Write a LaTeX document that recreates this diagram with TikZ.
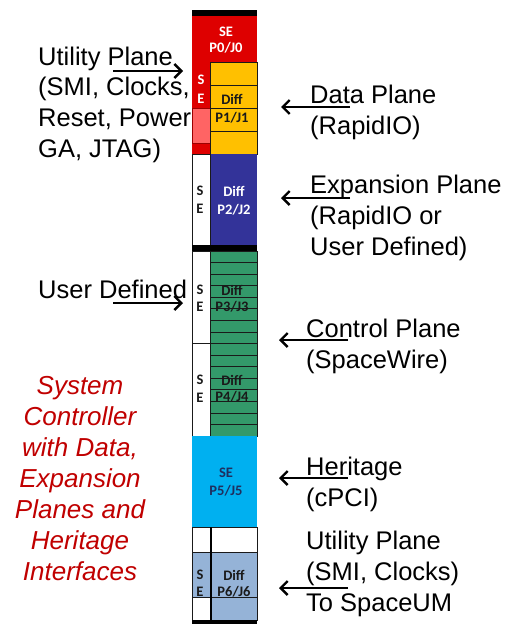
\documentclass[tikz,border=0pt]{standalone}
\usepackage{fontspec}
\setmainfont{Liberation Sans}
\newfontfamily\cellfont{Carlito}
\usetikzlibrary{arrows.meta,positioning}
\definecolor{slotred}{HTML}{DE0000}
\definecolor{slotpink}{HTML}{FF6464}
\definecolor{slotgold}{HTML}{FFC000}
\definecolor{slotnavy}{HTML}{333399}
\definecolor{slotgreen}{HTML}{33996A}
\definecolor{slotcyan}{HTML}{00B0F0}
\definecolor{slotsky}{HTML}{95B3D7}
\definecolor{notered}{HTML}{C00000}
\definecolor{inkdark}{HTML}{1A1A1A}
\definecolor{inknavy}{HTML}{1F2F5F}
\tikzset{
  planelabel/.style={font=\fontsize{25.5}{30.8}\selectfont, align=left, inner sep=0pt, anchor=north west},
  notelabel/.style={font=\itshape\fontsize{26}{31.1}\selectfont, text=notered, align=center, inner sep=0pt, anchor=north},
  pointer/.style={black, line width=2.4pt, -{Straight Barb[length=7pt,width=14pt]}},
  cellline/.style={inkdark, line width=0.7pt},
  cellbox/.style={draw=inkdark, line width=0.7pt},
  celltext/.style={font=\cellfont\fontsize{14.5}{16}\bfseries\selectfont, inner sep=0pt},
  bar/.style={fill=black}
}
\begin{document}
\begin{tikzpicture}[x=1pt,y=-1pt]
  \useasboundingbox (0,0) rectangle (509,624);
  % labels on the left
  \node[planelabel] (utiltop) at (38,46.5) {Utility Plane\\(SMI, Clocks,\\Reset, Power,\\GA, JTAG)};
  \node[planelabel] (userdef) at (38,280) {User Defined};
  \node[notelabel] (sysctl) at (80,376) {System\\Controller\\with Data,\\Expansion\\Planes and\\Heritage\\Interfaces};
  % labels on the right
  \node[planelabel] (dataplane) at (310,85) {Data Plane\\(RapidIO)};
  \node[planelabel] (expplane) at (310,175) {Expansion Plane\\(RapidIO or\\User Defined)};
  \node[planelabel] (ctrlplane) at (306,319) {Control Plane\\(SpaceWire)};
  \node[planelabel] (heritage) at (306,457) {Heritage\\(cPCI)};
  \node[planelabel] (utilbot) at (306,531) {Utility Plane\\(SMI, Clocks)\\To SpaceUM};
  % the slot column
  \fill[bar] (192,10) rectangle (257,16);
  \fill[slotred] (192,16) rectangle (257,62);
  \node[celltext, white] (se0) at (226,32) {SE};
  \node[celltext, white] (pj0) at (226,48) {P0/J0};
  \fill[slotred] (192,62) rectangle (210.5,154);
  \fill[slotpink, draw=slotred!70!black, line width=0.4pt] (192,108) rectangle (210.5,143);
  \fill[slotgold] (210.5,62) rectangle (257,154);
  \foreach \y in {85,108,131}{\draw[cellline] (210.5,\y) -- (257,\y);}
  \draw[cellbox] (210.5,62) rectangle (257,154);
  \node[celltext, white] (s1) at (201,80) {S};
  \node[celltext, white] (e1) at (201,99) {E};
  \node[celltext, inkdark] (diff1) at (232,99) {Diff};
  \node[celltext, inkdark] (pj1) at (232,118) {P1/J1};
  \fill[slotnavy] (210.5,154) rectangle (257,245);
  \draw[cellbox, fill=white] (192,154) rectangle (210.5,245);
  \node[celltext, inkdark] (s2) at (200,191) {S};
  \node[celltext, inkdark] (e2) at (200,209) {E};
  \node[celltext, white] (diff2) at (234,191) {Diff};
  \node[celltext, white] (pj2) at (234,210) {P2/J2};
  \fill[bar] (192,245) rectangle (257,251);
  \fill[slotgreen] (210.5,251) rectangle (257,436);
  \draw[cellbox, fill=white] (192,251) rectangle (210.5,343);
  \draw[cellbox, fill=white] (192,343) rectangle (210.5,436);
  \node[celltext, inkdark] (s3) at (200,290) {S};
  \node[celltext, inkdark] (e3) at (200,307) {E};
  \node[celltext, inkdark] (diff3) at (232,290) {Diff};
  \node[celltext, inkdark] (pj3) at (232,307) {P3/J3};
  \node[celltext, inkdark] (s4) at (200,380) {S};
  \node[celltext, inkdark] (e4) at (200,398) {E};
  \node[celltext, inkdark] (diff4) at (232,380) {Diff};
  \node[celltext, inkdark] (pj4) at (232,397) {P4/J4};
  \foreach \k in {1,...,15}{\draw[cellline] (210.5,251+11.5625*\k) -- (257,251+11.5625*\k);}
  \draw[cellbox] (210.5,251) rectangle (257,436);
  \fill[slotcyan] (192,436) rectangle (257,527);
  \node[celltext, inknavy] (se5) at (226,473) {SE};
  \node[celltext, inknavy] (pj5) at (226,491) {P5/J5};
  \draw[cellbox, fill=white] (192,527) rectangle (210.5,552);
  \draw[cellbox, fill=slotsky] (192,552) rectangle (210.5,597);
  \draw[cellbox, fill=white] (192,597) rectangle (210.5,620);
  \draw[cellbox, fill=white] (210.5,527) rectangle (257,552);
  \draw[cellbox, fill=slotsky] (210.5,552) rectangle (257,620);
  \draw[cellline] (210.5,597) -- (257,597);
  \node[celltext, inkdark] (s6) at (200,575) {S};
  \node[celltext, inkdark] (e6) at (200,592) {E};
  \node[celltext, inkdark] (diff6) at (234,575) {Diff};
  \node[celltext, inkdark] (pj6) at (234,592) {P6/J6};
  \draw[black, line width=2pt] (210.5,527) -- (210.5,624);
  \fill[bar] (192,620) rectangle (257,624);
  % arrows
  \coordinate (utiltail) at (113,71);
  \coordinate (utilhead) at (183,71);
  \coordinate (usertail) at (113,303);
  \coordinate (userhead) at (183,303);
  \coordinate (datatail) at (350,107);
  \coordinate (datahead) at (281,107);
  \coordinate (exptail) at (350,198);
  \coordinate (exphead) at (281,198);
  \coordinate (ctrltail) at (348,340);
  \coordinate (ctrlhead) at (279,340);
  \coordinate (heritail) at (348,478);
  \coordinate (herihead) at (279,478);
  \coordinate (utilbtail) at (348,588);
  \coordinate (utilbhead) at (279,588);
  \draw[pointer] (utiltail) -- (utilhead);
  \draw[pointer] (usertail) -- (userhead);
  \draw[pointer] (datatail) -- (datahead);
  \draw[pointer] (exptail) -- (exphead);
  \draw[pointer] (ctrltail) -- (ctrlhead);
  \draw[pointer] (heritail) -- (herihead);
  \draw[pointer] (utilbtail) -- (utilbhead);
\end{tikzpicture}
\end{document}
